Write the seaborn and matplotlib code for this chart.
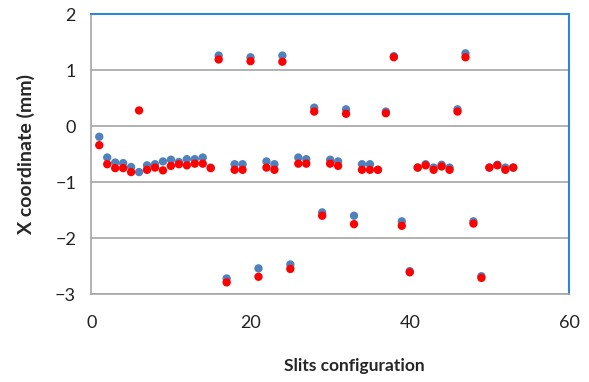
import numpy as np
import pandas as pd
import matplotlib
matplotlib.use("Agg")
import matplotlib.pyplot as plt
import seaborn as sns

# Slit configuration index
config = list(range(1, 54))

# X coordinate (mm), first series (blue)
x_blue = [-0.19, -0.56, -0.65, -0.66, -0.73, -0.82, -0.70, -0.68, -0.63, -0.60,
          -0.64, -0.59, -0.59, -0.56, -0.74, 1.26, -2.72, -0.68, -0.68, 1.23,
          -2.54, -0.63, -0.68, 1.26, -2.47, -0.56, -0.59, 0.33, -1.54, -0.60,
          -0.63, 0.30, -1.60, -0.68, -0.68, -0.78, 0.26, 1.25, -1.70, -2.59,
          -0.74, -0.68, -0.74, -0.69, -0.74, 0.30, 1.30, -1.70, -2.68, -0.74,
          -0.69, -0.74, -0.74]

# X coordinate (mm), second series (red)
x_red = [-0.34, -0.68, -0.75, -0.75, -0.82, 0.28, -0.78, -0.74, -0.79, -0.71,
         -0.68, -0.70, -0.67, -0.67, -0.75, 1.19, -2.79, -0.78, -0.78, 1.16,
         -2.69, -0.74, -0.78, 1.15, -2.55, -0.67, -0.67, 0.26, -1.60, -0.67,
         -0.71, 0.22, -1.75, -0.78, -0.78, -0.78, 0.23, 1.23, -1.78, -2.61,
         -0.74, -0.70, -0.78, -0.72, -0.78, 0.26, 1.23, -1.74, -2.71, -0.74,
         -0.70, -0.78, -0.74]

df = pd.DataFrame({"config": config, "blue": x_blue, "red": x_red})

sns.set_style("white")
plt.rcParams['font.family'] = ['Lato', 'DejaVu Sans']

fig, ax = plt.subplots(figsize=(5.89, 3.82), dpi=100)
fig.subplots_adjust(left=0.155, right=0.966, top=0.963, bottom=0.230)

sns.scatterplot(data=df, x="config", y="blue", color="#4F81BD", s=36,
                edgecolor="none", ax=ax, zorder=3)
sns.scatterplot(data=df, x="config", y="red", color="#FF0000", s=36,
                edgecolor="none", ax=ax, zorder=4)

ax.set_xlim(0, 60)
ax.set_ylim(-3, 2)
ax.set_xticks([0, 20, 40, 60])
ax.set_yticks([-3, -2, -1, 0, 1, 2])
ax.yaxis.grid(True, color="#A6A6A6", linewidth=1.2)
ax.set_axisbelow(True)

for side in ["left", "bottom"]:
    ax.spines[side].set_color("#A6A6A6")
    ax.spines[side].set_linewidth(1.2)
for side in ["top", "right"]:
    ax.spines[side].set_color("#2E86D6")
    ax.spines[side].set_linewidth(1.5)

ax.tick_params(axis="both", direction="out", length=5, width=1.2,
               color="#A6A6A6", labelsize=13, labelcolor="#222222", pad=6)
ax.tick_params(axis="x", pad=10)

ax.set_xlabel("Slits configuration", fontsize=12.5, fontweight="bold")
ax.set_ylabel("X coordinate (mm)", fontsize=14, fontweight="bold")
ax.xaxis.set_label_coords(0.55, -0.229)
ax.yaxis.set_label_coords(-0.117, 0.5)

fig.savefig("out.png", dpi=100)
